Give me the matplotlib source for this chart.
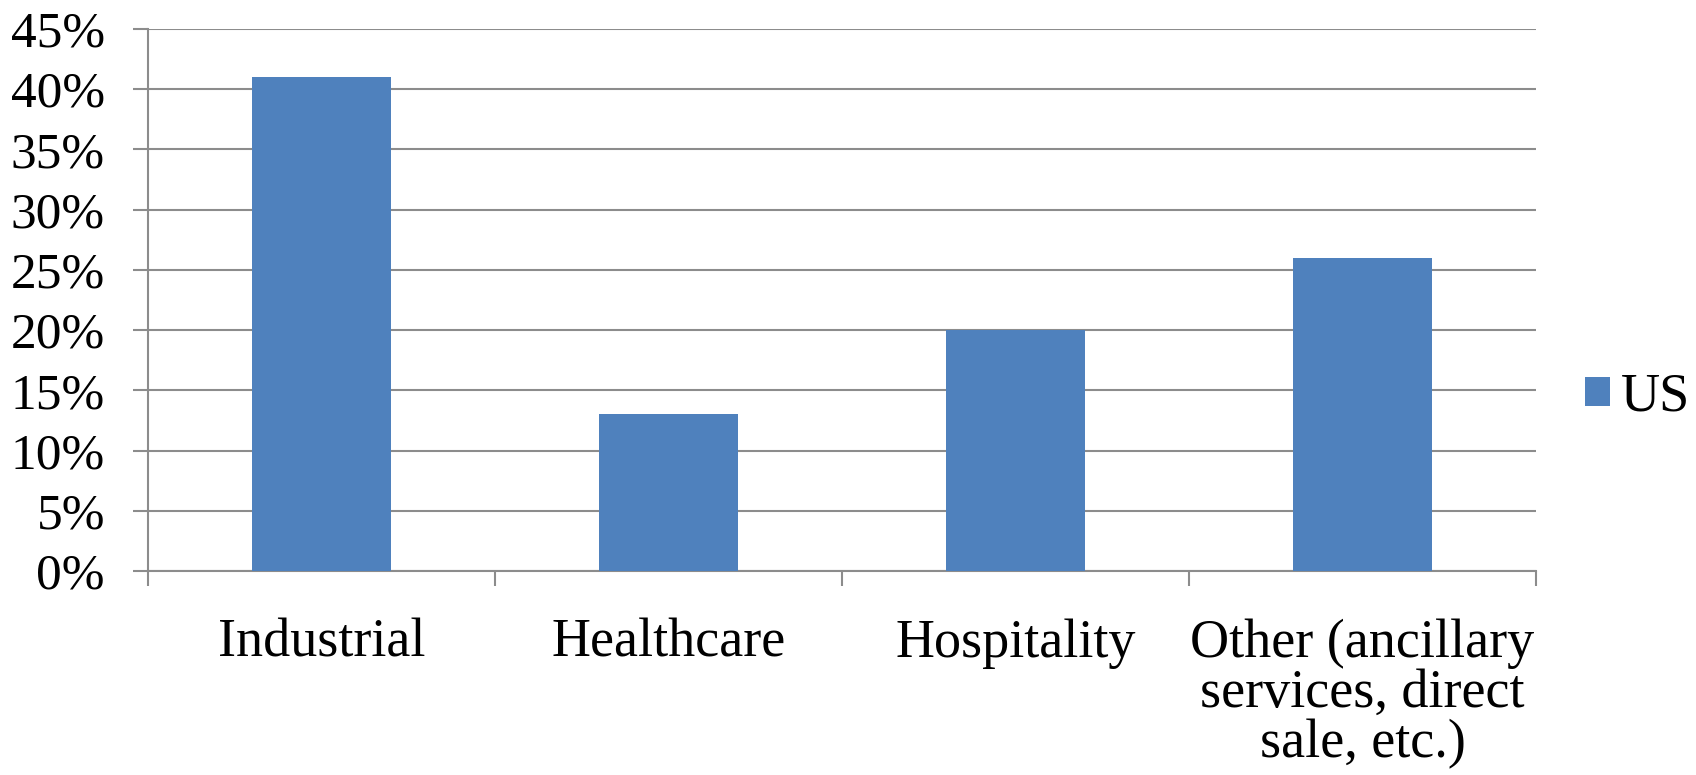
import matplotlib.pyplot as plt
from matplotlib.ticker import FixedLocator

# chart data
categories = ['Industrial', 'Healthcare', 'Hospitality',
              'Other (ancillary\nservices, direct\nsale, etc.)']
us_values = [41, 13, 20, 26]
y_ticks = [0, 5, 10, 15, 20, 25, 30, 35, 40, 45]
y_labels = ['0%', '5%', '10%', '15%', '20%', '25%', '30%', '35%', '40%', '45%']

plt.rcParams['font.family'] = ['Liberation Serif', 'DejaVu Serif']

W, H = 1696, 775
fig = plt.figure(figsize=(W / 100, H / 100), dpi=100)
ax = fig.add_axes([148 / W, 1 - 571 / H, (1536 - 148) / W, (571 - 29) / H])

x = list(range(len(categories)))
ax.bar(x, us_values, width=0.4, color='#4F81BD', label='US', zorder=3)

ax.set_xlim(-0.5, len(categories) - 0.5)
ax.set_ylim(0, 45)
ax.set_yticks(y_ticks)
ax.set_yticklabels(y_labels, fontsize=37)
ax.set_xticks(x)
ax.set_xticklabels(categories, fontsize=39, linespacing=1.0)
ax.xaxis.set_minor_locator(FixedLocator([i - 0.5 for i in range(len(categories) + 1)]))

ax.tick_params(axis='x', which='major', length=0, pad=34)
ax.tick_params(axis='x', which='minor', length=11, color='#8c8c8c', width=1.5)
ax.tick_params(axis='y', length=11, color='#8c8c8c', width=1.5, pad=20)

ax.grid(axis='y', color='#8c8c8c', linewidth=1.5, zorder=0)
for side in ['top', 'right']:
    ax.spines[side].set_visible(False)
for side in ['left', 'bottom']:
    ax.spines[side].set_color('#8c8c8c')
    ax.spines[side].set_linewidth(1.5)

ax.legend(loc='center left', bbox_to_anchor=(1.0, 0.32), frameon=False,
          fontsize=39, handlelength=0.46, handleheight=0.46, handletextpad=0.2)

plt.savefig('out.png', dpi=100)
